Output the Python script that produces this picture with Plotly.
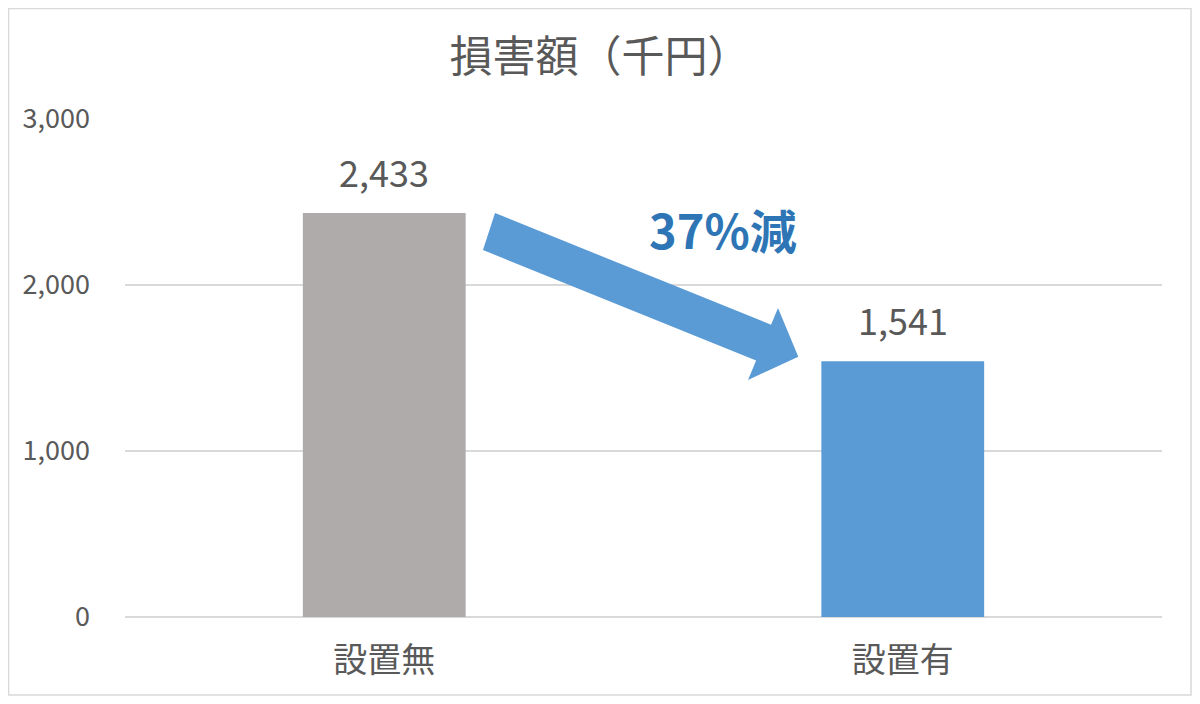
import plotly.graph_objects as go

categories = ["設置無", "設置有"]
values = [2433, 1541]
bar_colors = ["#AEABAA", "#5B9BD5"]
y_ticks = [0, 1000, 2000, 3000]
title_text = "損害額（千円）"
reduction_text = "37%減"

font_family = "Noto Sans CJK JP"
text_color = "#595959"

fig = go.Figure()
fig.add_trace(
    go.Bar(
        x=categories,
        y=values,
        marker_color=bar_colors,
        marker_line_width=0,
        width=0.314,
        showlegend=False,
        hoverinfo="skip",
    )
)

# value labels above the bars
for cat, val in zip(categories, values):
    fig.add_annotation(
        x=cat,
        y=val,
        text=f"{val:,}",
        showarrow=False,
        yanchor="bottom",
        yshift=14,
        font=dict(family=font_family, size=36, color=text_color),
    )

# big blue arrow between the bars (paper coords of the plot area)
arrow = [
    (0.3568, 0.8112),
    (0.6230, 0.5869),
    (0.6297, 0.6205),
    (0.6493, 0.5227),
    (0.6008, 0.4759),
    (0.6086, 0.5151),
    (0.3452, 0.7369),
]
path = "M " + " L ".join(f"{x},{y}" for x, y in arrow) + " Z"
fig.add_shape(
    type="path",
    path=path,
    xref="paper",
    yref="paper",
    fillcolor="#5B9BD5",
    line_width=0,
    layer="above",
)

fig.add_annotation(
    x=0.5768,
    y=0.781,
    xref="paper",
    yref="paper",
    xanchor="center",
    yanchor="middle",
    text=f"<b>{reduction_text}</b>",
    showarrow=False,
    font=dict(family=font_family, size=47, color="#2E75B6"),
)

# chart border
fig.add_shape(
    type="rect",
    xref="paper",
    yref="paper",
    x0=-0.1123,
    x1=1.028,
    y0=-0.1566,
    y1=1.2219,
    line=dict(color="#D9D9D9", width=1.5),
    layer="below",
)

# page has an 8px body margin, so the figure is 16px smaller than the window
fig.update_layout(
    width=1184,
    height=688,
    margin=dict(l=117, r=30, t=111, b=79),
    paper_bgcolor="white",
    plot_bgcolor="white",
    font=dict(family=font_family, color=text_color),
    title=dict(
        text=title_text,
        x=0.5,
        xref="container",
        xanchor="center",
        y=0.9288,
        yanchor="middle",
        font=dict(family=font_family, size=43, color=text_color),
    ),
    xaxis=dict(
        range=[-0.5, 1.5],
        showgrid=False,
        showline=False,
        ticks="",
        tickfont=dict(size=34, color=text_color),
        ticklabelstandoff=20,
    ),
    yaxis=dict(
        range=[0, 3000],
        tickvals=y_ticks,
        tickformat=",",
        showgrid=True,
        gridcolor="#D9D9D9",
        gridwidth=1.5,
        zeroline=True,
        zerolinecolor="#D9D9D9",
        zerolinewidth=1.5,
        showline=False,
        ticks="",
        tickfont=dict(size=27, color=text_color),
        ticklabelstandoff=34,
    ),
)

fig.write_html("out.html")
